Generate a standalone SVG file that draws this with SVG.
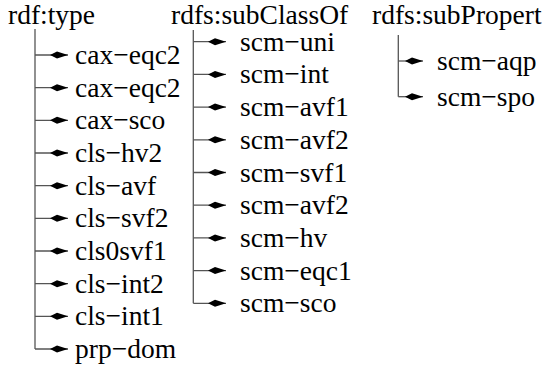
<svg xmlns="http://www.w3.org/2000/svg" width="546" height="370" viewBox="0 0 546 370">
  <style>
    text { font-family: "Liberation Serif", serif; font-size: 27.5px; fill: #000; }
    .trunk, .branch { stroke: #555; stroke-width: 1.3; fill: none; }
    .branch { marker-end: url(#kite); }
  </style>
  <defs>
    <marker id="kite" markerUnits="userSpaceOnUse" markerWidth="20" markerHeight="10" viewBox="0 -5 20 10" refX="18" refY="0" orient="auto">
      <path d="M0,0 L7,-3.5 L18,0 L7,3.5 Z" fill="#000"/>
    </marker>
  </defs>

  <!-- connectors: one trunk per column, one branch per item -->
  <g id="connectors">
    <path class="trunk" d="M35,29 V349"/>
    <path class="branch" d="M35,55 H68"/>
    <path class="branch" d="M35,87.7 H68"/>
    <path class="branch" d="M35,120.3 H68"/>
    <path class="branch" d="M35,153 H68"/>
    <path class="branch" d="M35,185.7 H68"/>
    <path class="branch" d="M35,218.3 H68"/>
    <path class="branch" d="M35,251 H68"/>
    <path class="branch" d="M35,283.7 H68"/>
    <path class="branch" d="M35,316.3 H68"/>
    <path class="branch" d="M35,349 H68"/>

    <path class="trunk" d="M193.3,30 V303.3"/>
    <path class="branch" d="M193.3,41.7 H226"/>
    <path class="branch" d="M193.3,74.4 H226"/>
    <path class="branch" d="M193.3,107.1 H226"/>
    <path class="branch" d="M193.3,139.8 H226"/>
    <path class="branch" d="M193.3,172.5 H226"/>
    <path class="branch" d="M193.3,205.2 H226"/>
    <path class="branch" d="M193.3,237.9 H226"/>
    <path class="branch" d="M193.3,270.6 H226"/>
    <path class="branch" d="M193.3,303.3 H226"/>

    <path class="trunk" d="M398.3,35 V96.7"/>
    <path class="branch" d="M398.3,61 H423"/>
    <path class="branch" d="M398.3,96.7 H423"/>
  </g>

  <!-- column: rdf:type -->
  <g id="rdf-type"><text x="8" y="24">rdf:type</text></g>
  <g id="cax-eqc2-a"><text x="75" y="64">cax−eqc2</text></g>
  <g id="cax-eqc2-b"><text x="75" y="96.7">cax−eqc2</text></g>
  <g id="cax-sco"><text x="75" y="129.3">cax−sco</text></g>
  <g id="cls-hv2"><text x="75" y="162">cls−hv2</text></g>
  <g id="cls-avf"><text x="75" y="194.7">cls−avf</text></g>
  <g id="cls-svf2"><text x="75" y="227.3">cls−svf2</text></g>
  <g id="cls0svf1"><text x="75" y="260">cls0svf1</text></g>
  <g id="cls-int2"><text x="75" y="292.7">cls−int2</text></g>
  <g id="cls-int1"><text x="75" y="325.3">cls−int1</text></g>
  <g id="prp-dom"><text x="75" y="358">prp−dom</text></g>

  <!-- column: rdfs:subClassOf -->
  <g id="rdfs-subClassOf"><text x="171" y="24">rdfs:subClassOf</text></g>
  <g id="scm-uni"><text x="240" y="50.7">scm−uni</text></g>
  <g id="scm-int"><text x="240" y="83.4">scm−int</text></g>
  <g id="scm-avf1"><text x="240" y="116.1">scm−avf1</text></g>
  <g id="scm-avf2-a"><text x="240" y="148.8">scm−avf2</text></g>
  <g id="scm-svf1"><text x="240" y="181.5">scm−svf1</text></g>
  <g id="scm-avf2-b"><text x="240" y="214.2">scm−avf2</text></g>
  <g id="scm-hv"><text x="240" y="246.9">scm−hv</text></g>
  <g id="scm-eqc1"><text x="240" y="279.6">scm−eqc1</text></g>
  <g id="scm-sco"><text x="240" y="312.3">scm−sco</text></g>

  <!-- column: rdfs:subPropert -->
  <g id="rdfs-subPropert"><text x="372" y="24">rdfs:subPropert</text></g>
  <g id="scm-aqp"><text x="437" y="70">scm−aqp</text></g>
  <g id="scm-spo"><text x="437" y="105.7">scm−spo</text></g>
</svg>
